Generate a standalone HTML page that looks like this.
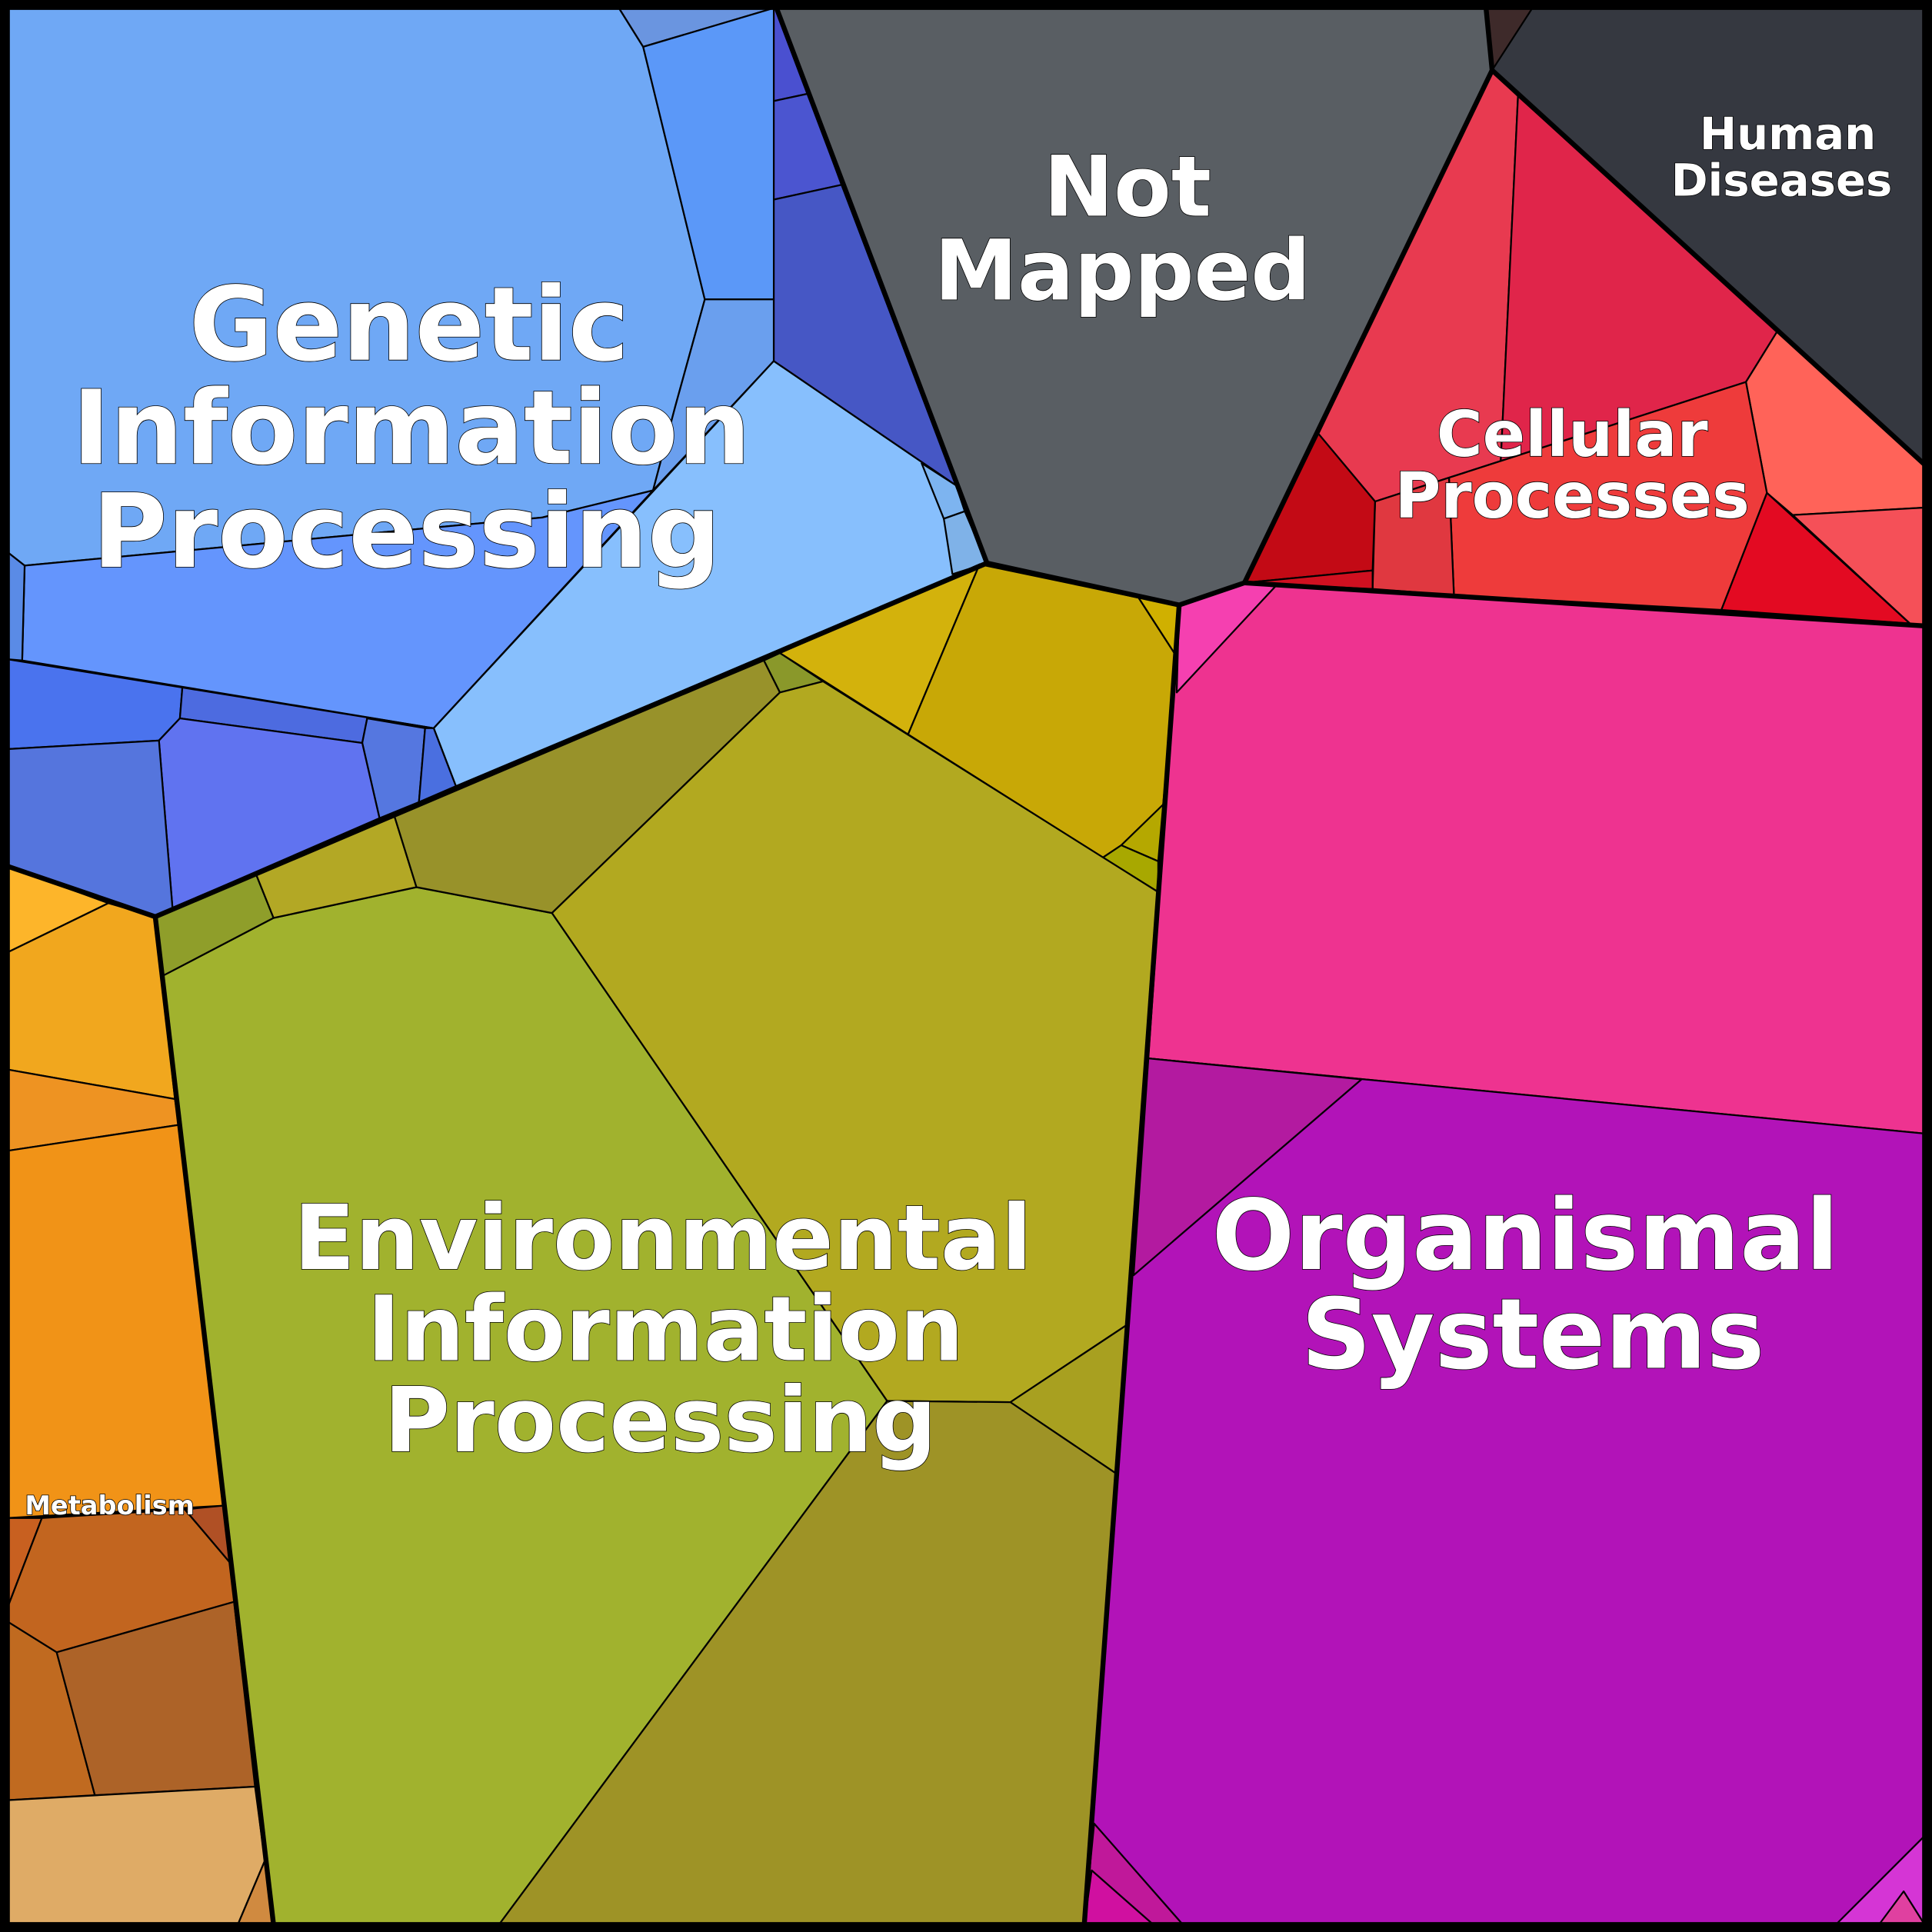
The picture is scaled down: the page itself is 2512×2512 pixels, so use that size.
<!DOCTYPE html>
<html><head><meta charset="utf-8"><style>
html,body{margin:0;padding:0;background:#000}
svg{display:block}
text{font-family:"DejaVu Sans","Liberation Sans",sans-serif;font-weight:bold;fill:#fff;text-anchor:middle;stroke:#000;stroke-width:1;paint-order:stroke}
.c{stroke:#000;stroke-width:1.4;stroke-linejoin:round}
.r{fill:none;stroke:#000;stroke-width:4;stroke-linejoin:round}
</style></head><body>
<svg width="2512" height="2512" viewBox="0 0 1568 1568" xmlns="http://www.w3.org/2000/svg">
<rect x="0" y="0" width="1568" height="1568" fill="#000"/>
<g class="c">
<polygon fill="#6FA8F5" points="6,6 502,6 522,38 572,243 548,330 530,398 440,420 20,459 6,448"/>
<polygon fill="#6A95E0" points="502,6 630,6 522,38"/>
<polygon fill="#5B98F8" points="522,38 630,6 628,243 572,243"/>
<polygon fill="#6A9FEE" points="572,243 628,243 628,293 530,398 548,330"/>
<polygon fill="#6495FD" points="20,459 440,420 530,398 352,591 18,536"/>
<polygon fill="#5A8BE6" points="6,448 20,459 18,536 6,535"/>
<polygon fill="#87BFFD" points="352,591 628,293 776,394 801,457 370,638"/>
<polygon fill="#4A50D0" points="628,6 630,6 656,76 628,82"/>
<polygon fill="#4B55D0" points="628,82 656,76 683,150 628,162"/>
<polygon fill="#4657C5" points="628,162 683,150 776,394 628,293"/>
<polygon fill="#7DB4F0" points="748,376 776,394 783,415 766,421"/>
<polygon fill="#7FB2E8" points="766,421 783,415 801,457 773,466"/>
<polygon fill="#4A73EE" points="6,535 148,558 146,583 129,601 6,608"/>
<polygon fill="#4D6BE0" points="148,558 352,591 298,583 294,603 146,583"/>
<polygon fill="#5577E0" points="298,583 345,591 340,651 308,664 294,603"/>
<polygon fill="#4A6FE0" points="345,591 352,591 370,638 340,651"/>
<polygon fill="#6073F0" points="129,601 146,583 294,603 308,664 140,737"/>
<polygon fill="#5575DD" points="6,608 129,601 140,737 126,744 6,703"/>
<polygon fill="#595E63" points="630,6 1206,6 1211,57 1010,473 957,491 801,457"/>
<polygon fill="#3E2A2A" points="1206,6 1244,6 1213,57 1211,57"/>
<polygon fill="#353840" points="1244,6 1562,6 1562,377 1211,57"/>
<polygon fill="#E83A50" points="1211,57 1232,78 1218,374.1 1116,407 1070,352"/>
<polygon fill="#E0254A" points="1232,78 1443,268 1417,310 1218,374.1"/>
<polygon fill="#FF6359" points="1443,268 1562,377 1562,412 1455,418 1434,400 1417,310"/>
<polygon fill="#F55058" points="1455,418 1562,412 1562,508 1550,506"/>
<polygon fill="#E30A22" points="1434,400 1550,506 1397,495"/>
<polygon fill="#EE3B3B" points="1176,387.7 1417,310 1434,400 1397,495 1180,483"/>
<polygon fill="#E03840" points="1116,407 1176,387.7 1180,483 1114,478"/>
<polygon fill="#C30A15" points="1070,352 1116,407 1114,463 1010,473"/>
<polygon fill="#D01020" points="1010,473 1114,463 1114,478"/>
<polygon fill="#EE3390" points="957,491 1010,473 1562,508 1562,920 932,859"/>
<polygon fill="#F540B0" points="957,491 1010,473 1035,476 955,562"/>
<polygon fill="#B213B8" points="932,859 1562,920 1562,1562 880,1562"/>
<polygon fill="#B31AA0" points="932,859 1105,876 920,1035"/>
<polygon fill="#C0189A" points="888,1480 960,1562 880,1562"/>
<polygon fill="#D010A0" points="886,1518 936,1562 880,1562"/>
<polygon fill="#D535D5" points="1490,1562 1562,1490 1562,1562"/>
<polygon fill="#E040A0" points="1525,1562 1545,1535 1562,1562"/>
<polygon fill="#A1B22E" points="132,792 222,745 338,720 448,741 720,1137 405,1562 222,1562"/>
<polygon fill="#8F9E2A" points="126,744 208,710 222,745 132,792"/>
<polygon fill="#B3A825" points="208,710 320,662 338,720 222,745"/>
<polygon fill="#98922A" points="320,662 620,536 633,562 448,741 338,720"/>
<polygon fill="#8A982A" points="620,536 633,530 668,553 633,562"/>
<polygon fill="#D3B20C" points="633,530 795,458 737,596"/>
<polygon fill="#C8A806" points="795,458 924,485 955,533 944,653 910,686 895,696 737,596"/>
<polygon fill="#D0B000" points="924,485 957,491 955,533"/>
<polygon fill="#B5A800" points="944,653 940,699 910,686"/>
<polygon fill="#A8A800" points="895,696 910,686 940,699 940,724"/>
<polygon fill="#B2A920" points="633,562 668,553 940,724 915,1075 820,1138 720,1137 448,741"/>
<polygon fill="#A8A020" points="820,1138 915,1075 906,1196"/>
<polygon fill="#9E9326" points="720,1137 820,1138 906,1196 880,1562 405,1562"/>
<polygon fill="#FDB52A" points="6,703 88,733 6,773"/>
<polygon fill="#F1A71E" points="88,733 126,744 142,892 6,868 6,773"/>
<polygon fill="#EE9322" points="6,868 142,892 145,913 6,934"/>
<polygon fill="#F19317" points="6,934 145,913 181,1222 6,1232"/>
<polygon fill="#C86020" points="6,1232 34,1232 6,1305"/>
<polygon fill="#C2651F" points="34,1232 150,1225 189,1271 190,1300 46,1341 6,1316 6,1305"/>
<polygon fill="#B05025" points="150,1225 181,1222 189,1271"/>
<polygon fill="#C06A20" points="6,1316 46,1341 77,1457 6,1461"/>
<polygon fill="#AD6328" points="46,1341 190,1300 207,1450 77,1457"/>
<polygon fill="#DFAB66" points="6,1461 207,1450 215,1510 193,1562 6,1562"/>
<polygon fill="#D08A40" points="215,1510 222,1562 193,1562"/>
</g>
<g class="r">
<polyline points="630,6 801,457 126,744 6,703"/>
<polyline points="126,744 222,1562"/>
<polyline points="801,457 957,491 1010,473 1211,57 1206,6"/>
<polyline points="957,491 880,1562"/>
<polyline points="1010,473 1562,508"/>
<polyline points="1211,57 1562,377"/>
<rect x="4" y="4" width="1560" height="1560" stroke-width="8"/>
</g>
<g>
<text x="332" y="292" font-size="83">Genetic</text>
<text x="334" y="376" font-size="83">Information</text>
<text x="330" y="460" font-size="83">Processing</text>
<text x="915" y="175" font-size="68">Not</text>
<text x="911" y="243" font-size="68">Mapped</text>
<text x="1451" y="121" font-size="36">Human</text>
<text x="1446" y="159" font-size="36">Diseases</text>
<text x="1276" y="370" font-size="51">Cellular</text>
<text x="1276" y="420" font-size="51">Processes</text>
<text x="538" y="1030" font-size="73">Environmental</text>
<text x="540" y="1104" font-size="73">Information</text>
<text x="536" y="1178" font-size="73">Processing</text>
<text x="1238" y="1030" font-size="79">Organismal</text>
<text x="1244" y="1110" font-size="79">Systems</text>
<text x="89" y="1229" font-size="21" stroke-width="0.6">Metabolism</text>
</g>
</svg>
</body></html>
